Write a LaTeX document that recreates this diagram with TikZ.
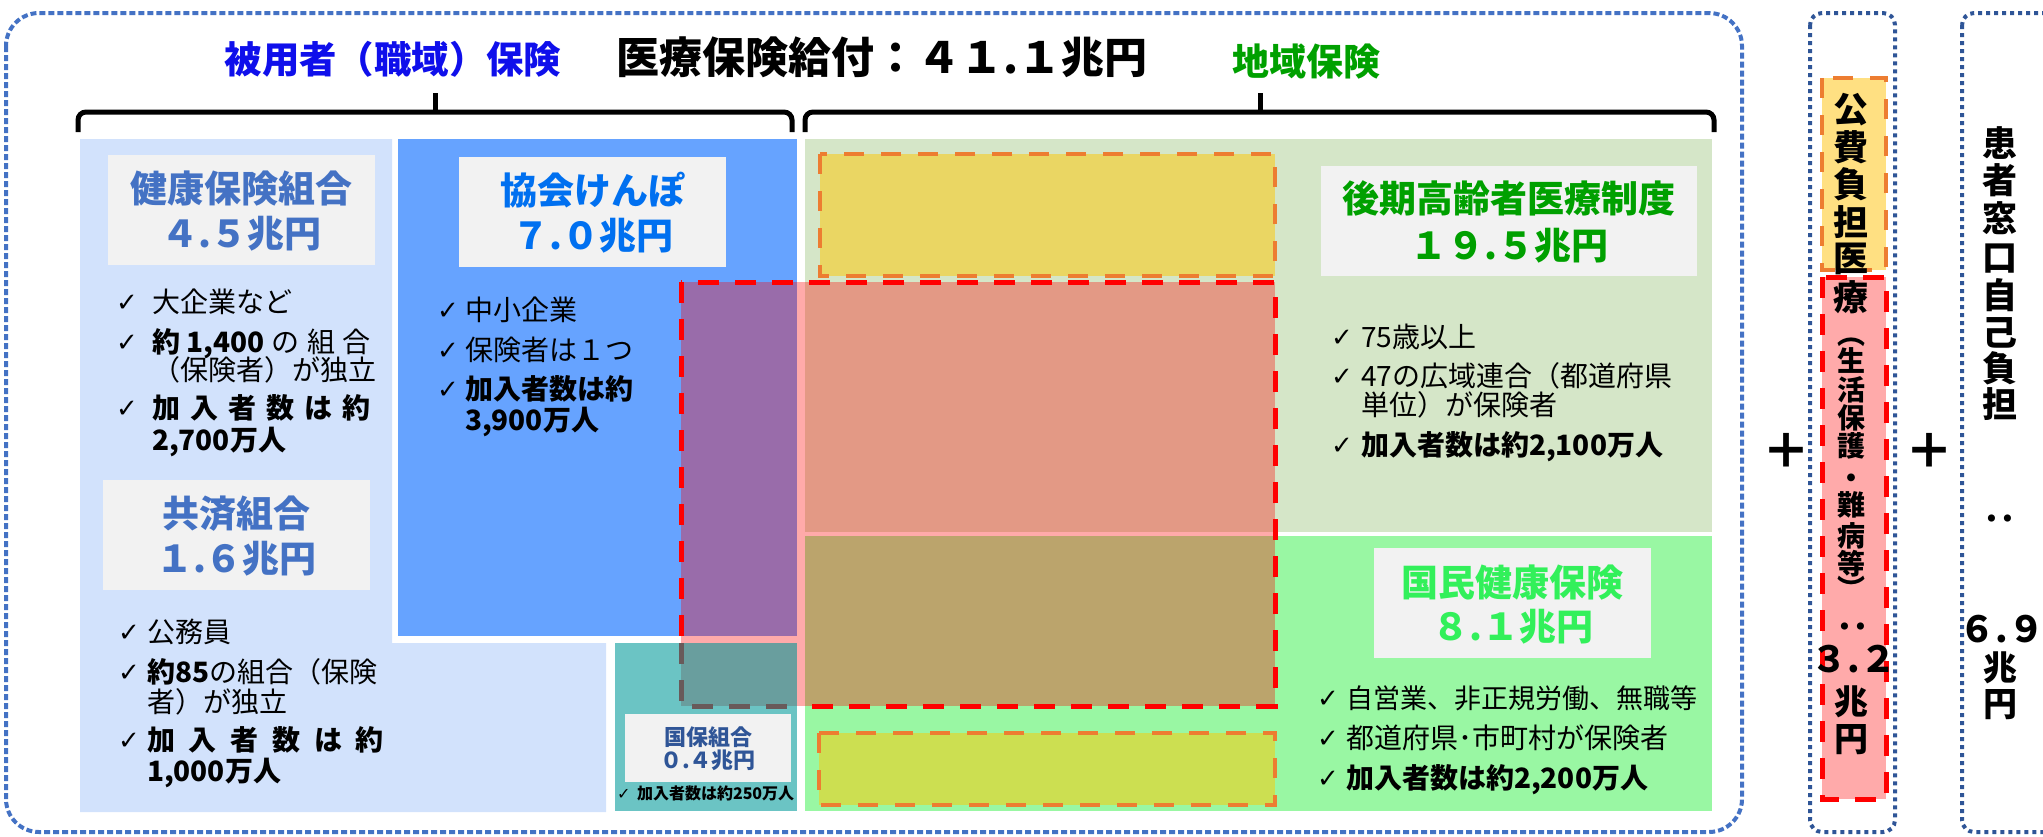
\documentclass[tikz,border=0pt]{standalone}
\usepackage{fontspec}
\setmainfont{Noto Sans CJK JP}
\newfontfamily\ckfont{DejaVu Sans}
\newcommand\fsz[1]{\fontsize{#1pt}{#1pt}\selectfont}
\definecolor{dotblue}{RGB}{68,114,196}
\definecolor{dkblue}{RGB}{47,85,151}
\definecolor{lblue}{RGB}{210,226,252}
\definecolor{kblue}{RGB}{102,163,255}
\definecolor{tealc}{RGB}{107,196,196}
\definecolor{lgreen}{RGB}{213,230,200}
\definecolor{mgreen}{RGB}{153,247,163}
\definecolor{boxgray}{RGB}{242,242,242}
\definecolor{ttlblue}{RGB}{15,15,235}
\definecolor{ttlgreen}{RGB}{0,160,0}
\definecolor{kkblue}{RGB}{0,112,240}
\definecolor{kokugreen}{RGB}{50,240,90}
\definecolor{orng}{RGB}{237,125,49}
\definecolor{yel}{RGB}{255,200,0}
\definecolor{dgray}{RGB}{105,90,90}
\definecolor{kogray}{RGB}{102,102,102}
\definecolor{lyel}{RGB}{255,224,130}
\definecolor{lpink}{RGB}{255,170,170}
\begin{document}
\begin{tikzpicture}[x=0.5pt,y=-0.5pt,
  every node/.style={inner sep=0pt,outer sep=0pt},
  jt/.style={font=\fsz{#1},text height=#1*0.88pt,text depth=#1*0.12pt},
  jb/.style={font=\fsz{#1}\bfseries,text height=#1*0.88pt,text depth=#1*0.12pt},
  bul/.style={jt=14,anchor=west},
  bulb/.style={jb=14,anchor=west},
  ck/.style={font=\ckfont\fsz{#1},text height=#1*0.88pt,text depth=#1*0.12pt,anchor=west},
  ck/.default=13,
  tight/.style={font=\fsz{#1}\bfseries},
  maindot/.style={draw=dotblue,line width=2pt,dash pattern=on 3pt off 1.5pt,rounded corners=16.5pt},
  sidedot/.style={draw=dkblue,line width=2pt,dash pattern=on 2pt off 2pt,rounded corners=6pt},
  reddash/.style={draw=red,line width=2.5pt,dash pattern=on 10.5pt off 8pt},
  orgdash/.style={draw=orng,line width=2pt,dash pattern=on 10pt off 8.5pt},
  graydash/.style={draw=dgray,line width=2.5pt,dash pattern=on 10.5pt off 8pt},
  bracestyle/.style={draw=black,line width=2.5pt,rounded corners=4pt},
  tbox/.style={fill=boxgray}
]
\useasboundingbox (0,0) rectangle (2043,836);
\clip (0,0) rectangle (2043,836);

% main frame
\draw[maindot] (6,13) rectangle (1742,832);

% titles
\node[jb=18.7,text=ttlblue] (hiyou) at (393,59) {被用者（職域）保険};
\node[jb=21.5] (total) at (882,57) {医療保険給付：４１.１兆円};
\node[jb=18.5,text=ttlgreen] (chiiki) at (1306,61) {地域保険};

% braces
\draw[bracestyle] (78,132) -- (78,112) -- (792,112) -- (792,132);
\draw[line width=2.5pt] (435,113) -- (435,93);
\draw[bracestyle] (805,132) -- (805,112) -- (1714,112) -- (1714,132);
\draw[line width=2.5pt] (1260,113) -- (1260,93);

% backgrounds
\fill[lblue] (80,139) -- (392,139) -- (392,643) -- (606,643) -- (606,812) -- (80,812) -- cycle;
\fill[kblue] (398,139) rectangle (797,636);
\fill[lgreen] (805,139) rectangle (1712,532);
\fill[mgreen] (805,536) rectangle (1712,811);

% overlays
\path[fill=yel,fill opacity=0.5,orgdash] (820,154) rectangle (1275,276);
\path[fill=yel,fill opacity=0.5,orgdash] (819,733) rectangle (1275,805);
\path[fill=red,fill opacity=0.333,reddash] (681,282) rectangle (1275,706);
\fill[tealc] (615,643) rectangle (797,811);
\fill[kogray,fill opacity=0.4] (681,643) rectangle (797,706);
\draw[graydash] (681,643) -- (681,706) -- (797,706);

% title boxes
\fill[tbox] (108,155) rectangle (375,265);
\node[jb=18.5,text=dotblue] (kenpo) at (241.5,188) {健康保険組合};
\node[jb=18.5,text=dotblue] (kenpoamt) at (241.5,233) {４.５兆円};

\fill[tbox] (459,157) rectangle (726,267);
\node[jb=18.5,text=kkblue] (kyokai) at (592.5,190) {協会けんぽ};
\node[jb=18.5,text=kkblue] (kyokaiamt) at (592.5,235) {７.０兆円};

\fill[tbox] (103,480) rectangle (370,590);
\node[jb=18.5,text=dotblue] (kyosai) at (236.5,513) {共済組合};
\node[jb=18.5,text=dotblue] (kyosaiamt) at (236.5,558) {１.６兆円};

\fill[tbox] (625,714) rectangle (791,782);
\node[jb=11,text=dkblue] (kokuho) at (708,737) {国保組合};
\node[jb=11,text=dkblue] (kokuhoamt) at (708,760) {０.４兆円};
\node[ck=8] (ck0) at (617,793) {✓};
\node[jb=8,anchor=west] (kokuhomem) at (637,793) {加入者数は約250万人};

\fill[tbox] (1321,166) rectangle (1697,276);
\node[jb=18.5,text=ttlgreen] (kouki) at (1509,198) {後期高齢者医療制度};
\node[jb=18.5,text=ttlgreen] (koukiamt) at (1509,245) {１９.５兆円};

\fill[tbox] (1374,548) rectangle (1651,658);
\node[jb=18.5,text=kokugreen] (kokumin) at (1512.5,582) {国民健康保険};
\node[jb=18.5,text=kokugreen] (kokuminamt) at (1512.5,626) {８.１兆円};

% bullets: kenpo
\node[ck] (c1) at (116,302) {✓};
\node[bul] (b1) at (152,302) {大企業など};
\node[ck] (c2) at (116,342) {✓};
\node[bul] (b2) at (152,342) {\hbox to 109.5pt{\bfseries 約 1,400\hfil\mdseries の\hfil 組\hfil 合}};
\node[bul] (b2b) at (152,370) {（保険者）が独立};
\node[ck] (c3) at (116,408) {✓};
\node[bulb] (b3) at (152,408) {\hbox to 109.5pt{加\hfil 入\hfil 者\hfil 数\hfil は\hfil 約}};
\node[bulb] (b3b) at (152,440) {2,700万人};

% bullets: kyokai
\node[ck] (c4) at (437,310) {✓};
\node[bul] (b4) at (465,310) {中小企業};
\node[ck] (c5) at (437,350) {✓};
\node[bul] (b5) at (465,350) {保険者は１つ};
\node[ck] (c6) at (437,389) {✓};
\node[bulb] (b6) at (465,389) {加入者数は約};
\node[bulb] (b6b) at (465,420) {3,900万人};

% bullets: kyosai
\node[ck] (c7) at (118,632) {✓};
\node[bul] (b7) at (147,632) {公務員};
\node[ck] (c8) at (118,672) {✓};
\node[bul] (b8) at (147,672) {{\bfseries 約85}の組合（保険};
\node[bul] (b8b) at (147,702) {者）が独立};
\node[ck] (c9) at (118,740) {✓};
\node[bulb] (b9) at (147,740) {\hbox to 118.5pt{加\hfil 入\hfil 者\hfil 数\hfil は\hfil 約}};
\node[bulb] (b9b) at (147,771) {1,000万人};

% bullets: kouki
\node[ck] (c10) at (1331,337) {✓};
\node[bul] (b10) at (1361,337) {75歳以上};
\node[ck] (c11) at (1331,376) {✓};
\node[bul] (b11) at (1361,376) {47の広域連合（都道府県};
\node[bul] (b11b) at (1361,405) {単位）が保険者};
\node[ck] (c12) at (1331,445) {✓};
\node[bulb] (b12) at (1361,445) {加入者数は約2,100万人};

% bullets: kokumin
\node[ck] (c13) at (1317,698) {✓};
\node[jt=13.5,anchor=west] (b13) at (1346,698) {自営業、非正規労働、無職等};
\node[ck] (c14) at (1317,738) {✓};
\node[bul] (b14) at (1346,738) {都道府県･市町村が保険者};
\node[ck] (c15) at (1317,778) {✓};
\node[bulb] (b15) at (1346,778) {加入者数は約2,200万人};

% plus signs
\node[jb=24] (plus1) at (1786,450) {＋};
\node[jb=24] (plus2) at (1929,450) {＋};

% right boxes
\draw[sidedot] (1810,13) rectangle (1895,832);
\path[fill=lyel,orgdash] (1822,78) rectangle (1886,270);
\path[fill=lpink,reddash] (1822,277) rectangle (1886,799);
\draw[sidedot] (1962,13) rectangle (2075,832);

\foreach \c/\yy [count=\i] in {公/109,費/147,負/184,担/222,医/258,療/297}
  \node[jb=17.5] (va\i) at (1851,\yy) {\c};
\node[tight=14] (vpo) at (1851,342) {︵};
\foreach \c/\yy [count=\i] in {生/361,活/390,保/418,護/446,・/478,難/505,病/536,等/564}
  \node[jb=14] (vp\i) at (1851,\yy) {\c};
\node[tight=14] (vpc) at (1851,588) {︶};
\node[jb=17,rotate=90] (colA) at (1853,626) {：};
\node[jb=18] (amtA) at (1854,659) {３.２};
\node[jb=17] (chA) at (1851,702) {兆};
\node[jb=17] (enA) at (1851,739) {円};

\foreach \c/\yy [count=\i] in {患/143,者/180,窓/218,口/257,自/295,己/332,負/368,担/404}
  \node[jb=17.5] (vb\i) at (2000,\yy) {\c};
\node[jb=17,rotate=90] (colB) at (2000,518) {：};
\node[jb=18] (amtB) at (2002,629) {６.９};
\node[jb=17] (chB) at (2000,668) {兆};
\node[jb=17] (enB) at (2000,704) {円};
\end{tikzpicture}
\end{document}
